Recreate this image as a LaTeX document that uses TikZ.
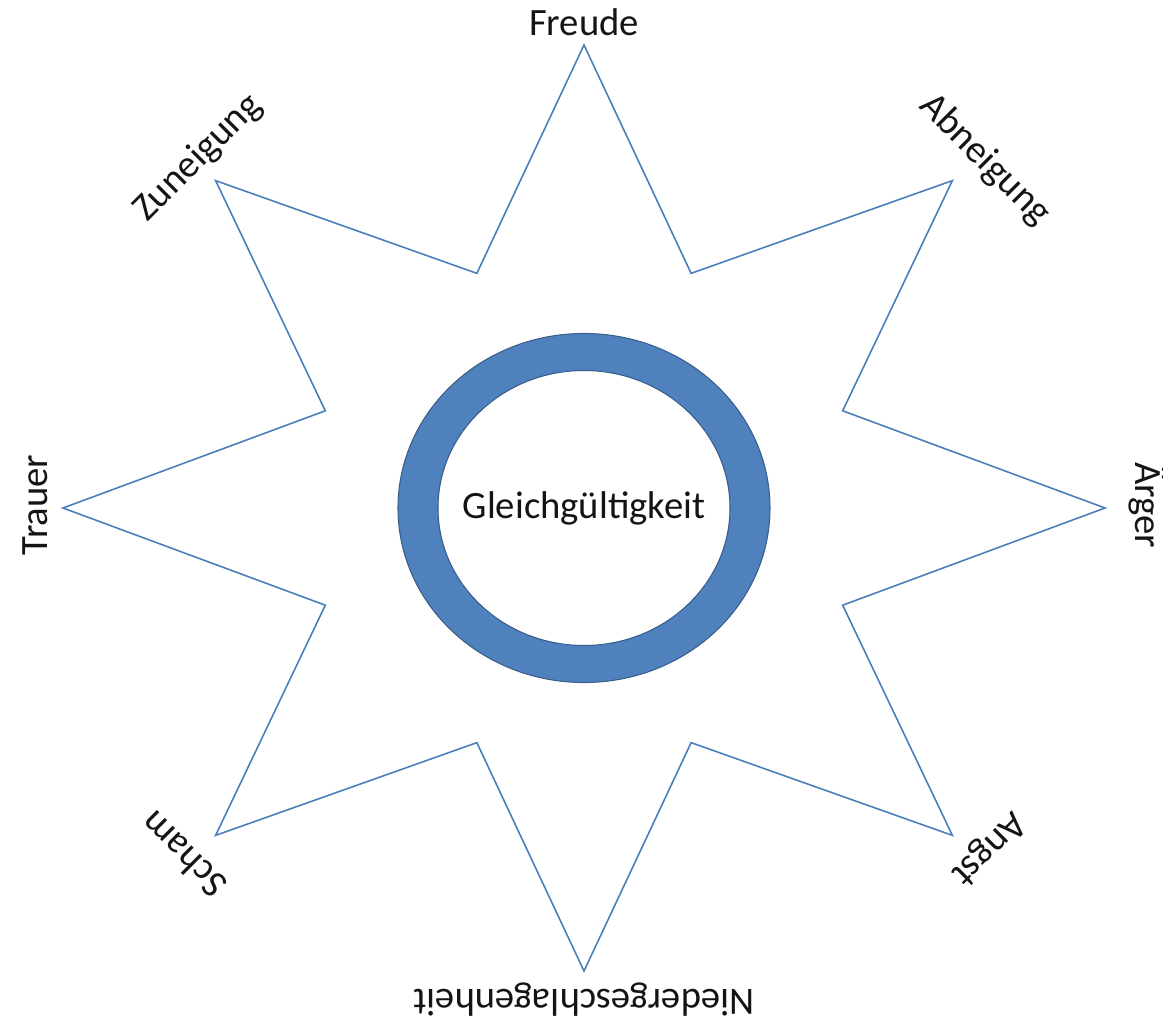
\documentclass[tikz,border=0pt]{standalone}
\usepackage{fontspec}
\setmainfont{Carlito}
\usetikzlibrary{positioning}
\definecolor{emostar}{RGB}{74,126,187}
\definecolor{emoring}{RGB}{79,129,189}
\definecolor{emoedge}{RGB}{56,93,138}
\definecolor{emotext}{RGB}{20,20,20}

\begin{document}
\begin{tikzpicture}[x=0.02cm, y=0.02cm, font=\fontsize{22}{26}\selectfont,
    emolabel/.style={text=emotext, inner sep=0pt}]
    \useasboundingbox (-584,-513) rectangle (579,508);

    % Star
    \draw [emostar, line width=0.9pt, line join=miter] (90:521 and 463)
        \foreach \a in {0,...,7} { -- (112.5+45*\a:280 and 254) -- (135+45*\a:521 and 463) } -- cycle;

    % Ring in the middle
    \path [fill=emoring, draw=emoedge, line width=0.6pt, even odd rule]
        (0,0) ellipse [x radius=186, y radius=174.5]
        (0,0) ellipse [x radius=146, y radius=137.5];
    \node [emolabel] (mitte) at (0,0) {Gleichgültigkeit};

    % Labels
    \node [emolabel] (freude) at (0,486) {Freude};
    \node [emolabel, rotate=-45] (abneigung) at (401,348) {Abneigung};
    \node [emolabel, rotate=-90] (aerger) at (564,3) {Ärger};
    \node [emolabel, rotate=-135] (angst) at (404,-340) {Angst};
    \node [emolabel, rotate=180] (nieder) at (0,-492) {Niedergeschlagenheit};
    \node [emolabel, rotate=135] (scham) at (-401,-347) {Scham};
    \node [emolabel, rotate=90] (trauer) at (-549,3) {Trauer};
    \node [emolabel, rotate=45] (zuneigung) at (-386,350) {Zuneigung};
\end{tikzpicture}
\end{document}
